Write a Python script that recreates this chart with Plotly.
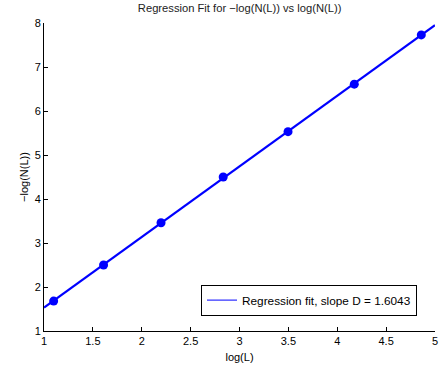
import plotly.graph_objects as go

log_L = [1.0986, 1.6094, 2.1972, 2.8332, 3.4965, 4.1744, 4.8598]
neg_log_N = [1.68, 2.50, 3.46, 4.50, 5.53, 6.61, 7.73]
slope_D = 1.6043
intercept = -0.07
fit_x = [1.0, 5.0]
x_ticks = [1, 1.5, 2, 2.5, 3, 3.5, 4, 4.5, 5]
y_ticks = [1, 2, 3, 4, 5, 6, 7, 8]

fit_y = [slope_D * x + intercept for x in fit_x]
font = "Liberation Sans, Arial, Helvetica, sans-serif"

fig = go.Figure()
fig.add_trace(go.Scatter(
    x=fit_x, y=fit_y, mode="lines",
    line=dict(color="#0000ff", width=2.2),
    showlegend=False, cliponaxis=False,
))
fig.add_trace(go.Scatter(
    x=log_L, y=neg_log_N, mode="markers",
    marker=dict(color="#0000ff", size=9),
    showlegend=False,
))
fig.add_trace(go.Scatter(
    x=[None], y=[None], mode="lines",
    line=dict(color="#0000ff", width=1),
    name=f"Regression fit, slope D = {slope_D:.4f}",
))

fig.update_layout(
    width=443, height=369,
    margin=dict(l=44, r=8, t=23, b=38, autoexpand=False),
    paper_bgcolor="white", plot_bgcolor="white",
    font=dict(family=font, size=11, color="black"),
    title=dict(text="Regression Fit for \u2212log(N(L)) vs log(N(L))",
               x=0.541, xanchor="center", y=0.99, yanchor="top",
               font=dict(size=11.2, family=font, color="#222")),
    showlegend=True,
    legend=dict(x=0.954, y=0.05, xanchor="right", yanchor="bottom",
                bgcolor="white", bordercolor="black", borderwidth=1,
                font=dict(size=11.8, family=font),
                itemwidth=30, tracegroupgap=0),
    xaxis=dict(range=[0.99999, 5.00001], tickvals=x_ticks, ticktext=[f"{t:g}" for t in x_ticks],
               showline=True, linecolor="black", linewidth=1,
               ticks="inside", ticklen=4, tickcolor="black",
               showgrid=False, zeroline=False, automargin=False,
               title=dict(text="log(L)", standoff=7, font=dict(size=11))),
    yaxis=dict(range=[0.99999, 8.00001], tickvals=y_ticks,
               showline=True, linecolor="black", linewidth=1,
               ticks="inside", ticklen=4, tickcolor="black",
               showgrid=False, zeroline=False, automargin=False,
               title=dict(text="\u2212log(N(L))", standoff=3, font=dict(size=11))),
)

fig.write_html("out.html",
               config={"displayModeBar": False},
               post_script="document.body.style.margin='0';document.body.style.padding='0';")
